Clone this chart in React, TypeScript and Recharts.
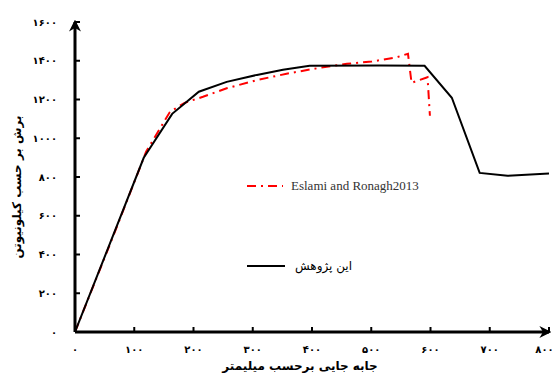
import { Label, Line, LineChart, XAxis, YAxis } from "recharts"

// این پژوهش (present study) - displacement (mm) / shear (kN)
const studyDisp = [0, 116, 164, 209, 256, 307, 351, 396, 514, 590, 636, 683, 730, 800]
const studyShear = [0, 899, 1126, 1240, 1291, 1327, 1353, 1374, 1376, 1374, 1209, 821, 806, 818]

// Eslami and Ronagh 2013
const eslamiDisp = [0, 60, 120, 160, 185, 216, 256, 307, 357, 410, 459, 501, 543, 562, 568, 595, 599]
const eslamiShear = [0, 460, 930, 1135, 1183, 1214, 1258, 1300, 1333, 1362, 1384, 1396, 1418, 1436, 1286, 1315, 1116]

const xTicks = [0, 100, 200, 300, 400, 500, 600, 700, 800]
const yTicks = [0, 200, 400, 600, 800, 1000, 1200, 1400, 1600]

const studyName = "این پژوهش"
const eslamiName = "Eslami and Ronagh2013"
const xTitle = "جابه جایی برحسب میلیمتر"
const yTitle = "برش بر حسب کیلونیوتن"

const studyData = studyDisp.map((d, i) => ({ disp: d, shear: studyShear[i] }))
const eslamiData = eslamiDisp.map((d, i) => ({ disp: d, shear: eslamiShear[i] }))

const toFa = (n: number) => String(n).replace(/\d/g, (d) => "۰۱۲۳۴۵۶۷۸۹"[+d])

const tickStyle = { fill: "#000", fontSize: 10, fontWeight: 700, fontFamily: "DejaVu Sans" }

// legend sits inside the plot, so it is drawn as an overlay instead of <Legend>
function LegendBox() {
  return (
    <div style={{ position: "absolute", left: 247, top: 178, fontFamily: "Liberation Serif", color: "#333" }}>
      <div style={{ display: "flex", alignItems: "center", height: 16 }}>
        <svg width={36} height={6}>
          <line x1={0} y1={3} x2={36} y2={3} stroke="#ff0000" strokeWidth={2} strokeDasharray="9 5 2 5" />
        </svg>
        <span style={{ marginLeft: 8, fontSize: 13 }}>{eslamiName}</span>
      </div>
      <div style={{ display: "flex", alignItems: "center", height: 16, marginTop: 64 }}>
        <svg width={38} height={6}>
          <line x1={0} y1={3} x2={38} y2={3} stroke="#000" strokeWidth={2} />
        </svg>
        <span style={{ marginLeft: 10, fontSize: 12, fontFamily: "DejaVu Sans", color: "#000" }}>{studyName}</span>
      </div>
    </div>
  )
}

export default function App() {
  return (
    <div style={{ position: "absolute", left: 0, top: 0, width: 552, height: 374, background: "#fff" }}>
      <LineChart width={552} height={374} margin={{ top: 22, right: 3, bottom: 0, left: 0 }}>
        <defs>
          <marker id="arrow" viewBox="0 0 10 10" refX="8" refY="5" markerWidth="12" markerHeight="12"
            markerUnits="userSpaceOnUse" orient="auto-start-reverse">
            <path d="M0,0 L10,5 L0,10 L3,5 z" fill="#000" />
          </marker>
        </defs>
        <XAxis
          type="number"
          dataKey="disp"
          domain={[0, 800]}
          ticks={xTicks}
          height={42}
          tickFormatter={toFa}
          tick={tickStyle}
          tickSize={-5}
          tickMargin={19}
          axisLine={{ stroke: "#000", strokeWidth: 3, markerEnd: "url(#arrow)" }}
          tickLine={{ stroke: "#000", strokeWidth: 2 }}
          allowDataOverflow
        >
          <Label
            content={({ viewBox }: any) => (
              <text x={viewBox.x + viewBox.width / 2 - 12} y={viewBox.y + 38} textAnchor="middle"
                fontSize={12} fontWeight={700} fontFamily="DejaVu Sans" fill="#000">
                {xTitle}
              </text>
            )}
          />
        </XAxis>
        <YAxis
          type="number"
          dataKey="shear"
          domain={[0, 1600]}
          ticks={yTicks}
          width={75}
          tickFormatter={toFa}
          tick={tickStyle}
          tickSize={-5}
          tickMargin={23}
          axisLine={{ stroke: "#000", strokeWidth: 3, markerStart: "url(#arrow)" }}
          tickLine={{ stroke: "#000", strokeWidth: 2 }}
        >
          <Label
            content={({ viewBox }: any) => {
              const cx = viewBox.x + 17
              const cy = viewBox.y + viewBox.height / 2 + 10
              return (
                <text x={cx} y={cy} textAnchor="middle" dominantBaseline="central"
                  transform={`rotate(-90 ${cx} ${cy})`}
                  fontSize={12} fontWeight={700} fontFamily="DejaVu Sans" fill="#000">
                  {yTitle}
                </text>
              )
            }}
          />
        </YAxis>
        <Line
          data={eslamiData}
          dataKey="shear"
          type="linear"
          stroke="#ff0000"
          strokeWidth={2}
          strokeDasharray="9 5 2 5"
          dot={false}
          isAnimationActive={false}
        />
        <Line
          data={studyData}
          dataKey="shear"
          type="linear"
          stroke="#000"
          strokeWidth={2}
          dot={false}
          isAnimationActive={false}
        />
      </LineChart>
      <LegendBox />
    </div>
  )
}
